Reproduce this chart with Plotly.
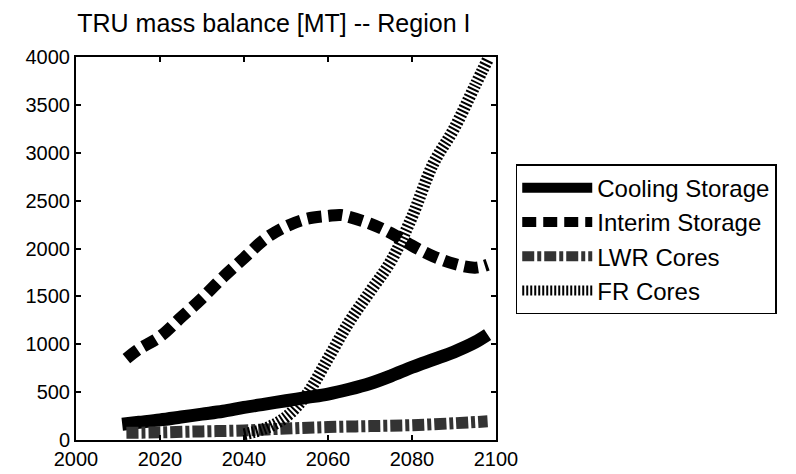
import plotly.graph_objects as go

years_cool = [2011, 2015, 2020, 2025, 2030, 2035, 2040, 2045, 2050, 2055, 2060, 2065, 2070, 2075, 2080, 2085, 2090, 2095, 2098]
cooling = [165, 185, 210, 240, 270, 300, 340, 375, 410, 445, 480, 530, 590, 670, 760, 840, 920, 1020, 1100]

years_int = [2012, 2015, 2020, 2025, 2030, 2035, 2040, 2045, 2050, 2055, 2060, 2063, 2065, 2070, 2075, 2080, 2085, 2090, 2095, 2098]
interim = [850, 950, 1080, 1280, 1480, 1700, 1900, 2100, 2230, 2310, 2340, 2350, 2330, 2260, 2160, 2030, 1920, 1840, 1800, 1830]

years_lwr = [2012, 2020, 2030, 2040, 2050, 2060, 2070, 2080, 2090, 2098]
lwr = [75, 80, 90, 100, 120, 135, 145, 155, 175, 195]

years_fr = [2040, 2045, 2050, 2055, 2060, 2065, 2070, 2075, 2080, 2085, 2090, 2095, 2098]
fr = [60, 120, 240, 480, 850, 1230, 1550, 1870, 2330, 2880, 3250, 3700, 3970]

x_ticks = [2000, 2020, 2040, 2060, 2080, 2100]
y_ticks = [0, 500, 1000, 1500, 2000, 2500, 3000, 3500, 4000]

fig = go.Figure()
fig.add_trace(go.Scatter(x=years_cool, y=cooling, mode="lines", name="Cooling Storage",
                         line=dict(color="black", width=13, shape="spline")))
fig.add_trace(go.Scatter(x=years_int, y=interim, mode="lines", name="Interim Storage",
                         line=dict(color="black", width=12, dash="14px,7px", shape="spline")))
fig.add_trace(go.Scatter(x=years_lwr, y=lwr, mode="lines", name="LWR Cores",
                         line=dict(color="#333333", width=12, dash="12px,3px,4px,3px", shape="spline")))
fig.add_trace(go.Scatter(x=years_fr, y=fr, mode="lines", name="FR Cores",
                         line=dict(color="black", width=12, dash="2px,2px", shape="spline")))

axis_common = dict(showline=True, linecolor="black", linewidth=2, mirror="ticks",
                   ticks="inside", ticklen=5, tickwidth=1.5, tickcolor="black",
                   showgrid=False, zeroline=False,
                   tickfont=dict(family="Liberation Sans, Arial", size=20, color="black"))

fig.update_layout(
    width=796, height=474,
    margin=dict(l=68, r=308, t=49, b=38),
    paper_bgcolor="white", plot_bgcolor="white",
    title=dict(text="TRU mass balance [MT] -- Region I", x=0.334, xref="container", xanchor="center",
               y=0.968, yanchor="middle",
               font=dict(family="Liberation Sans, Arial", size=25, color="black")),
    xaxis=dict(range=[2000, 2100], tickvals=x_ticks, ticktext=[str(v) for v in x_ticks], **axis_common),
    yaxis=dict(range=[0, 4000], tickvals=y_ticks, ticktext=[str(v) for v in y_ticks], **axis_common),
    legend=dict(x=1.047, y=0.72, xanchor="left", yanchor="top",
                bordercolor="black", borderwidth=1.5, bgcolor="white",
                font=dict(family="Liberation Sans, Arial", size=24, color="black"),
                itemwidth=70, tracegroupgap=0),
    showlegend=True,
)

fig.write_html("out.html")
